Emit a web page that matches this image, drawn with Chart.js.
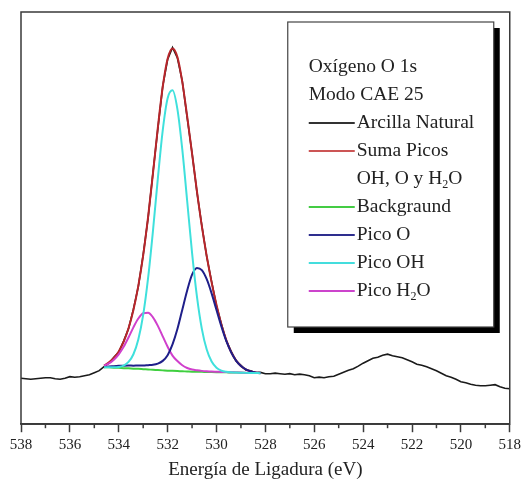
<!DOCTYPE html>
<html>
<head>
<meta charset="utf-8">
<script src="https://cdn.jsdelivr.net/npm/chart.js@4.4.0/dist/chart.umd.min.js"></script>
<style>
  html, body { margin: 0; padding: 0; background: #ffffff; }
  #wrap { width: 525px; height: 485px; position: relative; }
</style>
</head>
<body>
<div id="wrap"><canvas id="c" width="525" height="485"></canvas></div>
<script>
// ---- Data (binding energy in eV, intensity in arbitrary units) ----
const energyLow = [538.0, 537.8, 537.6, 537.4, 537.2, 537.0, 536.8, 536.6, 536.4, 536.2, 536.0, 535.8, 535.6, 535.4, 535.2, 535.0, 534.8];
const arcillaLow = [46, 45.5, 45, 45.5, 46, 46.5, 46.5, 45.5, 45, 46, 47.5, 47, 47.5, 48.5, 49.5, 51.5, 53.5];

const energyPeak = [534.6, 534.4, 534.2, 534.0, 533.8, 533.6, 533.4, 533.2, 533.0, 532.8, 532.6, 532.4, 532.2, 532.0, 531.8, 531.6, 531.4, 531.2, 531.0, 530.8, 530.6, 530.4, 530.2, 530.0, 529.8, 529.6, 529.4, 529.2, 529.0, 528.8, 528.6, 528.4, 528.2];
const arcillaPeak = [57.5, 61, 66.8, 72, 83, 95.5, 115, 137.5, 169.5, 206, 251.5, 295.5, 338, 364.5, 376.5, 366, 343, 306.5, 271, 232, 198.5, 167.5, 142.5, 118.5, 100.3, 83.5, 72.8, 63.2, 58.8, 54.2, 53.3, 51.5, 51.8];
const sumaPicos = [58.5, 61.9, 66.3, 72.7, 82.4, 95.9, 114.2, 138.3, 168.8, 206.9, 250.6, 296.4, 337.3, 365.3, 375.6, 367.0, 342.2, 307.6, 270.5, 232.8, 198.0, 168.0, 141.8, 119.1, 99.7, 84.1, 72.2, 63.8, 58.2, 54.8, 52.8, 51.8, 51.3];
const background = [57, 56.8, 56.5, 56.3, 56, 55.8, 55.5, 55.3, 55, 54.7, 54.4, 54.1, 53.8, 53.5, 53.3, 53.1, 52.9, 52.7, 52.5, 52.4, 52.3, 52.2, 52.1, 52, 51.9, 51.8, 51.7, 51.6, 51.5, 51.3, 51.2, 51.1, 51];
const picoO = [57, 57.8, 58, 58.3, 58.5, 58.6, 58.5, 58.6, 58.6, 59, 59.4, 60.6, 63.3, 69, 79.8, 95.1, 114.4, 133.7, 149.5, 156.2, 154, 144.9, 130.8, 114.2, 97.7, 83.2, 71.8, 63.6, 58.1, 54.7, 52.8, 51.8, 51.3];
const picoOH = [57, 56.9, 56.8, 57.2, 58.6, 62.2, 69.9, 84.7, 109.3, 145.9, 193.2, 245.7, 293.8, 325.9, 333.8, 315.0, 274.7, 223.1, 171.3, 127.5, 95.3, 74.6, 62.6, 56.5, 53.6, 52.4, 51.9, 51.6, 51.5, 51.3, 51.2, 51.1, 51];
const picoH2O = [58.5, 60.8, 64.5, 69.8, 77.3, 86.7, 96.8, 105.6, 110.9, 111.4, 106.8, 98.3, 87.8, 77.4, 68.6, 63.1, 58.9, 56.2, 54.7, 53.9, 53.3, 52.9, 52.6, 52.4, 52.2, 52.1, 51.9, 51.8, 51.6, 51.4, 51.2, 51.1, 51];

const energyHigh = [528.0, 527.8, 527.6, 527.4, 527.2, 527.0, 526.8, 526.6, 526.4, 526.2, 526.0, 525.8, 525.6, 525.4, 525.2, 525.0, 524.8, 524.6, 524.4, 524.2, 524.0, 523.8, 523.6, 523.4, 523.2, 523.0, 522.8, 522.6, 522.4, 522.2, 522.0, 521.8, 521.6, 521.4, 521.2, 521.0, 520.8, 520.6, 520.4, 520.2, 520.0, 519.8, 519.6, 519.4, 519.2, 519.0, 518.8, 518.6, 518.4, 518.2, 518.0];
const arcillaHigh = [50.5, 50.5, 51, 50.5, 50, 50.5, 49.5, 50, 49.5, 48.5, 46.5, 47, 46.5, 47.5, 48, 50, 52, 54, 55.5, 58, 61, 63.5, 66, 67, 69, 70, 68.5, 67.5, 66.5, 64.5, 62.5, 60, 59, 57.5, 55.5, 53.5, 51, 48.5, 47, 45, 42.5, 41.5, 40, 39, 38.5, 38.5, 39, 39.5, 37.5, 36, 35.5];

const xTickValues = [538, 536, 534, 532, 530, 528, 526, 524, 522, 520, 518];
const xMinorTicks = [537, 535, 533, 531, 529, 527, 525, 523, 521, 519];

const legendHeader = ['Oxígeno O 1s', 'Modo CAE 25'];
const seriesLabels = ['Arcilla Natural', 'Suma Picos', 'Backgraund', 'Pico O', 'Pico OH', 'Pico H_2O'];
const sumaSecondLine = 'OH, O y H_2O';

// ---- build points ----
function pts(xs, ys) { return xs.map((x, i) => ({ x: x, y: ys[i] })); }
const arcillaPts = pts(energyLow, arcillaLow).concat(pts(energyPeak, arcillaPeak), pts(energyHigh, arcillaHigh));

const COLORS = {
  black: '#1a1a1a', red: '#b8262b', green: '#3fcf3f', blue: '#1f1f8a', cyan: '#3fe0dc', magenta: '#d040cc'
};
const LEGEND_COLORS = ['#333333', '#cc5555', '#44cc44', '#2e2e8e', '#44dddd', '#cc44cc'];

const FONT = "'Liberation Serif', 'DejaVu Serif', serif";
const TEXT = '#222222';

function richText(ctx, txt, x, y, size) {
  const parts = txt.split(/_(\d)/);
  let cx = x;
  parts.forEach((p, i) => {
    if (!p) return;
    if (i % 2 === 1) {
      ctx.font = Math.round(size * 0.6) + 'px ' + FONT;
      ctx.fillText(p, cx, y + size * 0.28);
    } else {
      ctx.font = size + 'px ' + FONT;
      ctx.fillText(p, cx, y);
    }
    cx += ctx.measureText(p).width;
  });
}

const decor = {
  id: 'decor',
  afterDatasetsDraw(chart) {
    const ctx = chart.ctx, a = chart.chartArea, xs = chart.scales.x;
    ctx.save();
    ctx.strokeStyle = '#3a3a3a';
    ctx.lineWidth = 1.5;
    ctx.strokeRect(a.left, a.top, a.right - a.left, a.bottom - a.top);
    xMinorTicks.forEach(v => {
      const px = xs.getPixelForValue(v);
      ctx.beginPath();
      ctx.moveTo(px, a.bottom);
      ctx.lineTo(px, a.bottom + 4);
      ctx.stroke();
    });
    ctx.restore();
  },
  afterDraw(chart) {
    const ctx = chart.ctx, a = chart.chartArea;
    const bx = a.right - 222, by = a.top + 10, bw = 206, bh = 305;
    ctx.save();
    ctx.fillStyle = '#000';
    ctx.fillRect(bx + 6, by + 6, bw, bh);
    ctx.fillStyle = '#fff';
    ctx.fillRect(bx, by, bw, bh);
    ctx.strokeStyle = '#444';
    ctx.lineWidth = 1.2;
    ctx.strokeRect(bx, by, bw, bh);
    const size = 19.5;
    ctx.fillStyle = TEXT;
    ctx.textBaseline = 'middle';
    ctx.textAlign = 'left';
    const x0 = bx + 21, lineEnd = bx + 67, tx = bx + 69;
    let y = by + 45;
    const step = 28;
    legendHeader.forEach(t => { richText(ctx, t, x0, y, size); y += step; });
    seriesLabels.forEach((t, i) => {
      ctx.strokeStyle = LEGEND_COLORS[i];
      ctx.lineWidth = 2;
      ctx.beginPath();
      ctx.moveTo(x0, y);
      ctx.lineTo(lineEnd, y);
      ctx.stroke();
      ctx.fillStyle = TEXT;
      richText(ctx, t, tx, y, size);
      y += step;
      if (i === 1) { richText(ctx, sumaSecondLine, tx, y, size); y += step; }
    });
    ctx.restore();
  }
};

new Chart(document.getElementById('c'), {
  type: 'line',
  data: {
    datasets: [
      { label: 'Pico OH', data: pts(energyPeak, picoOH), borderColor: COLORS.cyan, borderWidth: 2, order: 1 },
      { label: 'Pico O', data: pts(energyPeak, picoO), borderColor: COLORS.blue, borderWidth: 2, order: 1 },
      { label: 'Pico H2O', data: pts(energyPeak, picoH2O), borderColor: COLORS.magenta, borderWidth: 2, order: 1 },
      { label: 'Backgraund', data: pts(energyPeak, background), borderColor: COLORS.green, borderWidth: 2, order: 2 },
      { label: 'Suma Picos', data: pts(energyPeak, sumaPicos), borderColor: COLORS.red, borderWidth: 2, order: 3 },
      { label: 'Arcilla Natural', data: arcillaPts, borderColor: COLORS.black, borderWidth: 1.6, order: 4, cubicInterpolationMode: 'default', tension: 0 }
    ]
  },
  options: {
    responsive: false,
    animation: false,
    elements: { point: { radius: 0 }, line: { cubicInterpolationMode: 'monotone', fill: false } },
    layout: { padding: { left: 21, top: 12, right: 14, bottom: 4 } },
    plugins: { legend: { display: false }, tooltip: { enabled: false } },
    scales: {
      x: {
        type: 'linear', min: 518, max: 538, reverse: true,
        afterBuildTicks: (s) => { s.ticks = xTickValues.map(v => ({ value: v })); },
        ticks: { color: TEXT, font: { family: FONT, size: 15 }, padding: 4, autoSkip: false, maxRotation: 0 },
        grid: { drawOnChartArea: false, drawTicks: true, tickLength: 8, tickColor: '#3a3a3a', tickWidth: 1.5 },
        border: { display: true, color: '#3a3a3a', width: 1.5 },
        title: { display: true, text: 'Energía de Ligadura (eV)', color: TEXT, font: { family: FONT, size: 19 }, padding: { top: 0, bottom: 0 } }
      },
      y: { display: false, min: 0, max: 412 }
    }
  },
  plugins: [decor]
});
</script>
</body>
</html>
